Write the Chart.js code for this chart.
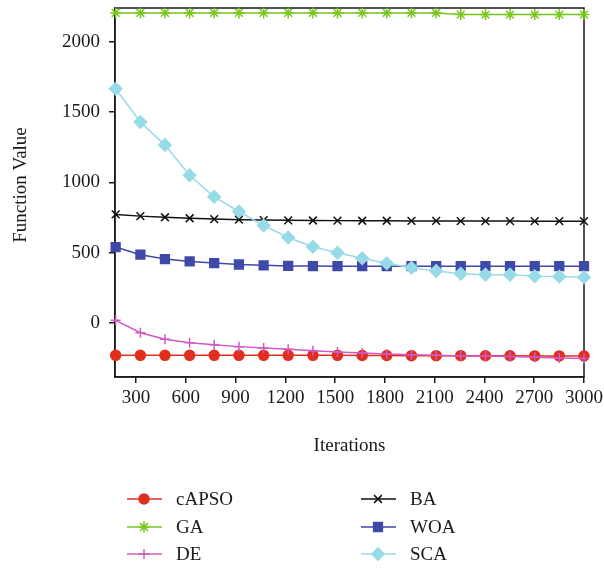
<!DOCTYPE html>
<html>
<head>
<meta charset="utf-8">
<script src="https://cdn.jsdelivr.net/npm/chart.js@4.4.0/dist/chart.umd.min.js"></script>
<style>
  html, body { margin: 0; padding: 0; background: #fff; }
</style>
</head>
<body>
<canvas id="chart" width="604" height="570"></canvas>
<script>
// iterations at which each algorithm was sampled
const iterations = [177, 326, 474, 623, 771, 920, 1069, 1217, 1366, 1514,
                    1663, 1811, 1960, 2109, 2257, 2406, 2554, 2703, 2851, 3000];

const capso = [-230, -230, -230, -230, -230, -230, -230, -230, -230, -230,
               -231, -231, -232, -232, -232, -233, -233, -234, -234, -235];
const ga    = [2205, 2205, 2205, 2205, 2205, 2205, 2205, 2205, 2205, 2205,
               2205, 2205, 2205, 2205, 2193, 2193, 2193, 2193, 2193, 2193];
const de    = [19, -69, -116, -140, -154, -168, -178, -187, -197, -206,
               -213, -221, -225, -230, -235, -235, -239, -244, -249, -253];
const ba    = [772, 760, 752, 745, 739, 735, 732, 730, 729, 728,
               727, 727, 726, 726, 725, 725, 725, 724, 724, 724];
const woa   = [540, 486, 455, 438, 426, 416, 410, 406, 405, 404,
               404, 404, 404, 404, 404, 404, 404, 404, 404, 404];
const sca   = [1666, 1429, 1265, 1050, 897, 793, 693, 608, 542, 500,
               460, 425, 393, 370, 351, 344, 344, 333, 330, 326];

const xTicks = [300, 600, 900, 1200, 1500, 1800, 2100, 2400, 2700, 3000];
const yTicks = [0, 500, 1000, 1500, 2000];

const serif = '"Liberation Serif", "DejaVu Serif", serif';
const ink = '#1a1a1a';

const series = [
  { label: 'cAPSO', data: capso, color: '#e02f1f', style: 'circle',   radius: 5 },
  { label: 'GA',    data: ga,    color: '#78c81c', style: 'star',     radius: 5.5 },
  { label: 'DE',    data: de,    color: '#d059c4', style: 'cross',    radius: 5 },
  { label: 'BA',    data: ba,    color: '#111111', style: 'crossRot', radius: 5.5 },
  { label: 'WOA',   data: woa,   color: '#3f49a8', style: 'rect',     radius: 6.2 },
  { label: 'SCA',   data: sca,   color: '#98dbe8', style: 'rectRot',  radius: 6.2 }
];

const datasets = series.map((s, i) => ({
  label: s.label,
  data: iterations.map((x, j) => ({ x: x, y: s.data[j] })),
  borderColor: s.color,
  backgroundColor: s.color,
  pointStyle: s.style,
  pointRadius: s.radius,
  pointBorderWidth: 1.5,
  borderWidth: 1.5,
  tension: 0,
  clip: false,
  order: series.length - i // later series painted on top
}));

// box around the plot area
const frame = {
  id: 'frame',
  beforeDatasetsDraw(chart) {
    const { ctx, chartArea: a } = chart;
    ctx.save();
    ctx.strokeStyle = ink;
    ctx.lineWidth = 1.5;
    ctx.strokeRect(a.left, a.top, a.right - a.left, a.bottom - a.top);
    ctx.restore();
  }
};

// y axis title and the two-column legend under the plot
const extras = {
  id: 'extras',
  afterDraw(chart) {
    const ctx = chart.ctx;
    ctx.save();
    ctx.fillStyle = ink;
    ctx.font = '19px ' + serif;
    ctx.textAlign = 'center';
    ctx.textBaseline = 'middle';
    ctx.translate(21, 185);
    ctx.rotate(-Math.PI / 2);
    ctx.fillText('Function Value', 0, 0);
    ctx.restore();

    const cols = [127, 361];
    const rows = [499, 527, 554];
    series.forEach((s, i) => {
      const x0 = cols[Math.floor(i / 3)];
      const y = rows[i % 3];
      ctx.save();
      ctx.strokeStyle = s.color;
      ctx.fillStyle = s.color;
      ctx.lineWidth = 1.5;
      ctx.beginPath();
      ctx.moveTo(x0, y);
      ctx.lineTo(x0 + 35, y);
      ctx.stroke();
      Chart.helpers.drawPoint(ctx, { pointStyle: s.style, radius: s.radius, borderWidth: 1.5, rotation: 0 }, x0 + 17, y);
      ctx.fillStyle = ink;
      ctx.font = '19px ' + serif;
      ctx.textAlign = 'left';
      ctx.textBaseline = 'middle';
      ctx.fillText(s.label, x0 + 49, y + 1);
      ctx.restore();
    });
  }
};

const ctx = document.getElementById('chart').getContext('2d');
new Chart(ctx, {
  type: 'line',
  data: { datasets: datasets },
  plugins: [frame, extras],
  options: {
    responsive: false,
    animation: false,
    layout: { padding: { left: 0, right: 20, top: 8, bottom: 113 } },
    plugins: {
      legend: { display: false },
      tooltip: { enabled: false }
    },
    scales: {
      x: {
        type: 'linear',
        min: 173,
        max: 3000,
        afterBuildTicks: s => { s.ticks = xTicks.map(v => ({ value: v })); },
        afterFit: s => {
          s.height = 80;
          s.paddingLeft = 0;
          s.paddingRight = 0;
        },
        ticks: {
          callback: v => String(v),
          color: ink,
          padding: 4,
          maxRotation: 0,
          font: { family: serif, size: 19 }
        },
        grid: { drawOnChartArea: false, tickLength: 6, color: ink, lineWidth: 1.5 },
        border: { display: true, color: ink, width: 1.5 },
        title: {
          display: true,
          text: 'Iterations',
          color: ink,
          padding: { top: 0, bottom: 0 },
          font: { family: serif, size: 19 }
        }
      },
      y: {
        type: 'linear',
        min: -384,
        max: 2240,
        afterBuildTicks: s => { s.ticks = yTicks.map(v => ({ value: v })); },
        afterFit: s => {
          s.width = 115;
          s.paddingTop = 0;
          s.paddingBottom = 0;
        },
        ticks: {
          callback: v => String(v),
          color: ink,
          padding: 9,
          font: { family: serif, size: 19 }
        },
        grid: { drawOnChartArea: false, tickLength: 6, color: ink, lineWidth: 1.5 },
        border: { display: true, color: ink, width: 1.5 }
      }
    }
  }
});
</script>
</body>
</html>
